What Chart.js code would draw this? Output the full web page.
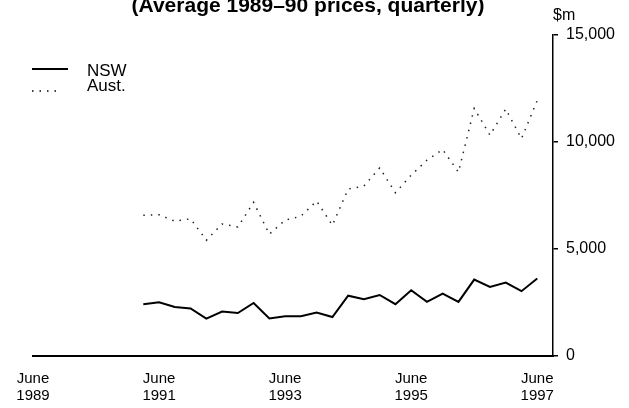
<!DOCTYPE html>
<html>
<head>
<meta charset="utf-8">
<script src="https://cdn.jsdelivr.net/npm/chart.js@4"></script>
<style>
  body { margin: 0; background: #fff; }
  #wrap { width: 629px; height: 408px; }
</style>
</head>
<body>
<div id="wrap"><canvas id="grafico" width="629" height="408"></canvas></div>
<script>
// Trimestres del eje (junio 1989 a septiembre 1997)
const trimestres = [
  'Jun-89','Sep-89','Dec-89','Mar-90','Jun-90','Sep-90','Dec-90','Mar-91',
  'Jun-91','Sep-91','Dec-91','Mar-92','Jun-92','Sep-92','Dec-92','Mar-93',
  'Jun-93','Sep-93','Dec-93','Mar-94','Jun-94','Sep-94','Dec-94','Mar-95',
  'Jun-95','Sep-95','Dec-95','Mar-96','Jun-96','Sep-96','Dec-96','Mar-97',
  'Jun-97','Sep-97'
];
// Las series empiezan en marzo 1991
const sinDatos = [null, null, null, null, null, null, null];

// $m, precios promedio 1989-90
const valoresNSW = [
  2420, 2510, 2290, 2220, 1750, 2080, 2010, 2480, 1750, 1860, 1860, 2030, 1820,
  2820, 2650, 2850, 2420, 3070, 2530, 2920, 2530, 3570, 3230, 3430, 3030, 3620
];
const valoresAust = [
  6580, 6600, 6300, 6410, 5410, 6170, 6030, 7180, 5690, 6350, 6530, 7240, 6110,
  7800, 7940, 8790, 7630, 8450, 9150, 9650, 8590, 11570, 10320, 11540, 10160, 11940
];

// Etiquetas del eje X
const etiquetasX = {
  'Jun-89': ['June', '1989'],
  'Jun-91': ['June', '1991'],
  'Jun-93': ['June', '1993'],
  'Jun-95': ['June', '1995'],
  'Jun-97': ['June', '1997']
};
const ticksY = [0, 5000, 10000, 15000];

const fuente = "'Liberation Sans', Arial, sans-serif";

// Titulo, leyenda y unidad dibujados a mano
const textos = {
  id: 'textos',
  afterDraw(chart) {
    const ctx = chart.ctx;
    ctx.save();
    ctx.fillStyle = '#000';
    ctx.textBaseline = 'alphabetic';

    ctx.font = 'bold 21px ' + fuente;
    ctx.textAlign = 'center';
    ctx.fillText('(Average 1989\u201390 prices, quarterly)', 308, 12);

    ctx.textAlign = 'left';
    ctx.font = '16px ' + fuente;
    ctx.fillText('$m', 553, 20);

    // leyenda
    ctx.strokeStyle = '#000';
    ctx.lineWidth = 2;
    ctx.beginPath();
    ctx.moveTo(32, 69);
    ctx.lineTo(68, 69);
    ctx.stroke();

    ctx.lineWidth = 1.5;
    ctx.setLineDash([1.5, 6]);
    ctx.beginPath();
    ctx.moveTo(32, 91);
    ctx.lineTo(62, 91);
    ctx.stroke();
    ctx.setLineDash([]);

    ctx.font = '17px ' + fuente;
    ctx.fillText('NSW', 87, 76);
    ctx.fillText('Aust.', 87, 91);
    ctx.restore();
  }
};

let myChart = new Chart(document.querySelector('#grafico'), {
  type: 'line',
  data: {
    labels: trimestres,
    datasets: [{
      label: 'NSW',
      data: sinDatos.concat(valoresNSW),
      borderColor: '#000',
      borderWidth: 2,
      pointRadius: 0,
      tension: 0
    }, {
      label: 'Aust.',
      data: sinDatos.concat(valoresAust),
      borderColor: '#222',
      borderWidth: 1.5,
      borderDash: [1.5, 6],
      pointRadius: 0,
      tension: 0
    }]
  },
  options: {
    responsive: false,
    animation: false,
    devicePixelRatio: 1,
    layout: { padding: { left: 33, top: 35, right: 0, bottom: 0 } },
    plugins: {
      legend: { display: false },
      tooltip: { enabled: false }
    },
    scales: {
      x: {
        type: 'category',
        grid: { display: false },
        border: { display: true, color: '#000', width: 2 },
        ticks: {
          autoSkip: false,
          maxRotation: 0,
          padding: 7,
          color: '#000',
          font: { family: fuente, size: 15, lineHeight: 1.1 },
          callback: function (value) {
            return etiquetasX[this.getLabelForValue(value)] || '';
          }
        },
        afterFit(scale) { scale.height = 52; }
      },
      y: {
        position: 'right',
        min: 0,
        max: 15000,
        afterBuildTicks(scale) {
          scale.ticks = ticksY.map(v => ({ value: v }));
        },
        grid: {
          drawOnChartArea: false,
          drawTicks: true,
          tickLength: 5,
          color: '#000',
          lineWidth: 1.5
        },
        border: { display: true, color: '#000', width: 1.5 },
        ticks: {
          padding: 8,
          color: '#000',
          font: { family: fuente, size: 16 },
          callback: v => v.toLocaleString('en-US')
        },
        afterFit(scale) { scale.width = 76; }
      }
    }
  },
  plugins: [textos]
});
</script>
</body>
</html>
